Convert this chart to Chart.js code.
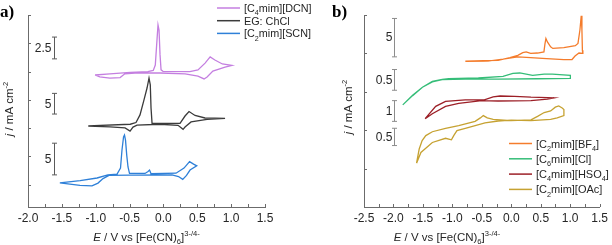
<!DOCTYPE html>
<html>
<head>
<meta charset="utf-8">
<script src="https://cdn.jsdelivr.net/npm/chart.js@4.4.0/dist/chart.umd.min.js"></script>
<style>
  html, body { margin: 0; padding: 0; background: #fff; }
  #wrap { position: relative; width: 612px; height: 245px; overflow: hidden; }
  canvas { position: absolute; top: 0; }
  #ca { left: 0; }
  #cb { left: 305px; }
</style>
</head>
<body>
<div id="wrap">
  <canvas id="ca" width="320" height="245"></canvas>
  <canvas id="cb" width="307" height="245"></canvas>
</div>
<script>
// ---- panel a : E (V) and stacked current (arbitrary offset units)
var dcnE = [-1.01,-0.79,-0.49,-0.23,-0.15,-0.12,-0.095,-0.08,-0.065,-0.05,-0.035,-0.006,0.39,0.51,0.615,0.69,0.76,0.87,1.01,0.91,0.73,0.645,0.60,0.51,0.32,-0.05,-0.42,-0.57,-0.64,-0.79,-0.94,-1.01];
var dcnJ = [4.88,4.92,4.97,5.00,5.04,5.23,6.12,6.65,6.47,5.59,5.06,5.01,5.00,5.06,5.30,5.52,5.41,5.27,5.22,5.16,5.02,4.81,4.74,4.84,4.92,4.95,4.95,4.92,4.79,4.77,4.81,4.88];
var egE = [-1.11,-0.49,-0.405,-0.346,-0.287,-0.242,-0.213,-0.194,-0.183,-0.168,0.245,0.319,0.378,0.467,0.614,0.91,0.644,0.408,0.319,0.29,0.216,-0.05,-0.39,-0.449,-0.493,-0.567,-0.789,-1.11];
var egJ = [3.08,3.14,3.20,3.47,4.00,4.42,4.77,4.53,3.71,3.17,3.17,3.43,3.59,3.45,3.36,3.35,3.31,3.22,3.04,2.96,3.10,3.14,3.11,3.04,2.90,3.01,3.05,3.07];
var scnE = [-1.53,-1.23,-0.98,-0.82,-0.685,-0.634,-0.612,-0.589,-0.575,-0.56,-0.542,-0.523,-0.501,-0.272,-0.227,-0.205,-0.183,0.186,0.304,0.386,0.445,0.492,0.393,0.341,0.285,0.223,0.127,-0.493,-0.804,-0.892,-0.966,-1.055,-1.232,-1.53];
var scnJ = [1.07,1.15,1.24,1.35,1.38,1.59,2.23,2.69,2.76,2.58,2.05,1.63,1.40,1.40,1.47,1.52,1.39,1.41,1.59,1.82,1.73,1.67,1.52,1.33,1.19,1.29,1.35,1.34,1.33,1.22,1.06,0.96,0.98,1.07];
var labelsA = ['[C₄mim][DCN]', 'EG: ChCl', '[C₂mim][SCN]'];
// scale bars of panel a: text, low end, high end
var barTextA = ['2.5', '5', '5'];
var barLowA = [5.45, 3.50, 1.35];
var barHighA = [6.22, 4.23, 2.47];
var barXA = -1.61;

// ---- panel b
var bf4E = [-0.78,-0.475,-0.224,-0.023,0.111,0.195,0.253,0.328,0.446,0.554,0.571,0.588,0.613,0.668,0.705,0.892,1.087,1.132,1.165,1.187,1.199,1.207,1.215,1.149,1.082,1.031,0.892,0.529,0.328,0.111,-0.14,-0.391,-0.78];
var bf4J = [3.80,3.81,3.82,3.89,3.95,4.02,4.04,4.00,4.01,4.04,4.24,4.39,4.30,4.17,4.13,4.15,4.20,4.26,4.61,4.98,4.61,4.08,4.00,4.01,3.93,3.84,3.84,3.87,3.89,3.91,3.85,3.80,3.79];
var clE = [-1.842,-1.675,-1.508,-1.34,-1.173,-0.781,-0.224,0.446,1.003,1.003,0.697,0.558,0.362,0.144,0.027,-0.14,-0.559,-1.061,-1.173,-1.34,-1.508,-1.675,-1.842];
var clJ = [2.66,2.91,3.12,3.27,3.32,3.33,3.33,3.34,3.35,3.43,3.46,3.46,3.43,3.49,3.48,3.40,3.36,3.34,3.32,3.26,3.12,2.90,2.66];
var hso4E = [-1.462,-1.283,-1.116,-0.781,-0.458,-0.308,-0.19,0.056,0.334,0.613,0.725,0.613,0.334,-0.224,-0.503,-0.893,-1.116,-1.34,-1.462];
var hso4J = [2.30,2.62,2.75,2.79,2.79,2.87,2.89,2.88,2.86,2.85,2.84,2.81,2.77,2.76,2.77,2.70,2.62,2.43,2.30];
var oacE = [-1.608,-1.563,-1.513,-1.451,-1.34,-1.116,-0.893,-0.614,-0.525,-0.475,-0.408,-0.308,-0.006,0.334,0.446,0.558,0.668,0.747,0.805,0.864,0.893,0.893,0.78,0.668,0.334,-0.001,-0.224,-0.446,-0.781,-0.922,-0.977,-1.016,-1.116,-1.34,-1.534,-1.608];
var oacJ = [1.14,1.51,1.73,1.86,1.96,2.05,2.12,2.23,2.32,2.38,2.32,2.28,2.25,2.27,2.36,2.46,2.50,2.60,2.63,2.58,2.54,2.38,2.32,2.28,2.25,2.26,2.24,2.19,2.05,1.99,1.86,1.75,1.79,1.68,1.42,1.14];
var labelsB = ['[C₂mim][BF₄]', '[C₆mim][Cl]', '[C₄mim][HSO₄]', '[C₂mim][OAc]'];
var barTextB = ['5', '0.5', '1', '0.5'];
var barLowB = [3.91, 3.04, 2.23, 1.60];
var barHighB = [4.91, 3.58, 2.77, 2.05];
var barXB = -1.99;

// axis titles (text, style)
var xTitle = [['E', 'i'], [' / V vs [Fe(CN)', 'n'], ['6', 'sub'], [']', 'n'], ['3-/4-', 'sup']];
var yTitle = [['j', 'i'], [' / mA cm', 'n'], ['-2', 'sup']];

var FONT = '"Liberation Sans", Arial, sans-serif';
var AXIS = '#6b6b6b';
var TEXT = '#262626';
Chart.defaults.font.family = FONT;
Chart.defaults.animation = false;

function pts(xs, ys) {
  return xs.map(function (x, i) { return { x: x, y: ys[i] }; });
}

function serie(label, xs, ys, color) {
  return {
    label: label, data: pts(xs, ys), showLine: true,
    borderColor: color, backgroundColor: color, borderWidth: 1.3,
    pointRadius: 0, tension: 0, fill: false
  };
}

// split a label with unicode subscript digits into runs
var SUBS = '₀₁₂₃₄₅₆₇₈₉';
function runs(str) {
  var out = [];
  Array.from(str).forEach(function (ch) {
    var k = SUBS.indexOf(ch);
    var st = k >= 0 ? 'sub' : 'n';
    var c = k >= 0 ? String(k) : ch;
    if (out.length && out[out.length - 1][1] === st) out[out.length - 1][0] += c;
    else out.push([c, st]);
  });
  return out;
}

function drawRich(ctx, parts, x, y, size, align) {
  function fontFor(s) {
    var sz = (s === 'sub' || s === 'sup') ? size * 0.66 : size;
    return (s === 'i' ? 'italic ' : '') + sz + 'px ' + FONT;
  }
  var w = 0;
  parts.forEach(function (p) { ctx.font = fontFor(p[1]); w += ctx.measureText(p[0]).width; });
  var cx = align === 'center' ? x - w / 2 : x;
  ctx.textAlign = 'left';
  ctx.textBaseline = 'alphabetic';
  parts.forEach(function (p) {
    ctx.font = fontFor(p[1]);
    var dy = p[1] === 'sub' ? size * 0.3 : (p[1] === 'sup' ? -size * 0.42 : 0);
    ctx.fillText(p[0], cx, y + dy);
    cx += ctx.measureText(p[0]).width;
  });
}

var decor = {
  id: 'decor',
  afterDraw: function (chart) {
    var o = chart.options.plugins.decor;
    var ctx = chart.ctx, xs = chart.scales.x, ys = chart.scales.y, a = chart.chartArea;
    ctx.save();
    // inward tick marks
    ctx.strokeStyle = AXIS;
    ctx.lineWidth = 1;
    xs.ticks.forEach(function (t) {
      var px = Math.round(xs.getPixelForValue(t.value)) + 0.5;
      ctx.beginPath(); ctx.moveTo(px, a.bottom); ctx.lineTo(px, a.bottom - 3); ctx.stroke();
    });
    ys.ticks.forEach(function (t) {
      var py = Math.round(ys.getPixelForValue(t.value)) + 0.5;
      ctx.beginPath(); ctx.moveTo(a.left, py); ctx.lineTo(a.left + 3, py); ctx.stroke();
    });
    // scale bars
    o.barText.forEach(function (txt, i) {
      var bx = Math.round(xs.getPixelForValue(o.barX)) + 0.5;
      var y1 = ys.getPixelForValue(o.barHigh[i]), y2 = ys.getPixelForValue(o.barLow[i]);
      ctx.strokeStyle = o.barColor;
      ctx.beginPath();
      ctx.moveTo(bx, y1); ctx.lineTo(bx, y2);
      ctx.moveTo(bx - 2.5, y1); ctx.lineTo(bx + 2.5, y1);
      ctx.moveTo(bx - 2.5, y2); ctx.lineTo(bx + 2.5, y2);
      ctx.stroke();
      ctx.fillStyle = TEXT;
      ctx.font = '12px ' + FONT;
      ctx.textAlign = 'right';
      ctx.textBaseline = 'middle';
      ctx.fillText(txt, bx - o.barGap, (y1 + y2) / 2 + 0.5);
    });
    // legend
    chart.data.datasets.forEach(function (ds, i) {
      var ly = o.legY + i * o.legDy;
      ctx.strokeStyle = ds.borderColor;
      ctx.lineWidth = 1.5;
      ctx.beginPath(); ctx.moveTo(o.legX, ly); ctx.lineTo(o.legX + 23, ly); ctx.stroke();
      ctx.fillStyle = TEXT;
      drawRich(ctx, runs(ds.label), o.legX + 27, ly + 4, o.legSize, 'left');
    });
    // axis titles
    ctx.fillStyle = TEXT;
    var tx = o.xTitleX != null ? o.xTitleX : (a.left + a.right) / 2;
    drawRich(ctx, xTitle, tx, 241, 11.5, 'center');
    ctx.save();
    ctx.translate(o.yTitleX, o.yTitleY);
    ctx.rotate(-Math.PI / 2);
    drawRich(ctx, yTitle, 0, 4, 11.5, 'center');
    ctx.restore();
    // panel letter
    ctx.fillStyle = '#000';
    ctx.font = 'bold 17px "Liberation Serif", "Times New Roman", serif';
    ctx.textAlign = 'left';
    ctx.textBaseline = 'alphabetic';
    ctx.fillText(o.letter, o.letterX, 17);
    ctx.restore();
  }
};

function makeChart(id, datasets, xmin, xmax, ymin, ymax, leftW, pad, deco) {
  return new Chart(document.getElementById(id), {
    type: 'scatter',
    data: { datasets: datasets },
    options: {
      responsive: false,
      layout: { padding: pad },
      plugins: { legend: { display: false }, tooltip: { enabled: false }, decor: deco },
      scales: {
        x: {
          type: 'linear', min: xmin, max: xmax,
          grid: { display: false, drawTicks: false },
          border: { display: true, color: AXIS, width: 1 },
          ticks: {
            stepSize: 0.25, autoSkip: false, maxRotation: 0, minRotation: 0, padding: 4,
            color: TEXT, font: { size: 12 },
            callback: function (v) {
              return Math.abs(v * 2 - Math.round(v * 2)) < 1e-6 ? Number(v).toFixed(1) : '';
            }
          },
          afterFit: function (s) { s.height = 38; }
        },
        y: {
          type: 'linear', min: ymin, max: ymax,
          grid: { display: false, drawTicks: false },
          border: { display: true, color: AXIS, width: 1 },
          ticks: { display: false, stepSize: 1 },
          afterBuildTicks: function (s) {
            s.ticks = s.ticks.filter(function (t) { return Math.abs(t.value - Math.round(t.value)) < 1e-6; });
          },
          afterFit: function (s) { s.width = leftW; }
        }
      }
    },
    plugins: [decor]
  });
}

makeChart('ca', [
  serie(labelsA[0], dcnE, dcnJ, '#c47fe0'),
  serie(labelsA[1], egE, egJ, '#3b3b3b'),
  serie(labelsA[2], scnE, scnJ, '#2f80d8')
], -2, 1.5, 0.215, 7, 28, { left: 0, right: 55, top: 15, bottom: 0 }, {
  letter: 'a)', letterX: 0,
  barText: barTextA, barLow: barLowA, barHigh: barHighA, barX: barXA, barColor: '#5a5a5a', barGap: 3,
  legX: 217, legY: 8, legDy: 12.7, legSize: 10.8,
  yTitleX: 9, yTitleY: 109
});

makeChart('cb', [
  serie(labelsB[0], bf4E, bf4J, '#f47c2c'),
  serie(labelsB[1], clE, clJ, '#35bd78'),
  serie(labelsB[2], hso4E, hso4J, '#9c1f27'),
  serie(labelsB[3], oacE, oacJ, '#c6a232')
], -2.5, 1.5, 0, 5, 59, { left: 0, right: 9, top: 15, bottom: 0 }, {
  letter: 'b)', letterX: 27,
  barText: barTextB, barLow: barLowB, barHigh: barHighB, barX: barXB, barColor: '#8c8c8c', barGap: 2,
  legX: 204, legY: 143.5, legDy: 15.3, legSize: 11,
  xTitleX: 142, yTitleX: 43, yTitleY: 107
});
</script>
</body>
</html>
